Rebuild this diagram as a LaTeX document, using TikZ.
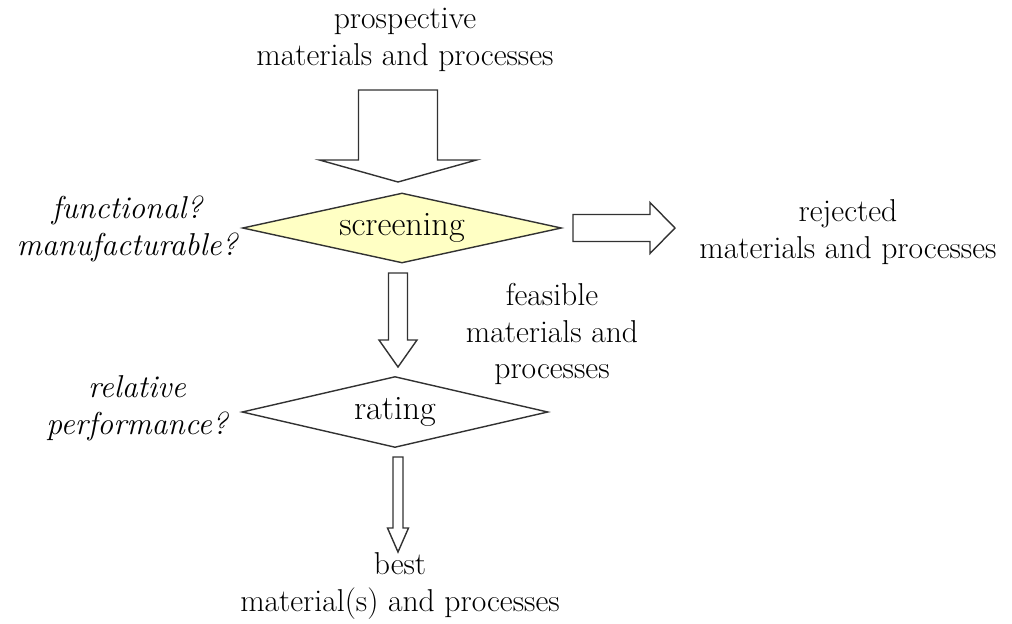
\documentclass[tikz,border=0pt]{standalone}
\usepackage{tikz}
\usetikzlibrary{shapes.geometric,calc}
\definecolor{screenfill}{RGB}{255,255,196}
\definecolor{linegray}{RGB}{50,50,50}
\tikzset{every node/.style={font=\fontsize{18}{21}\selectfont},
 textblock/.style={align=center, inner sep=0pt},
 question/.style={align=center, inner sep=0pt, font=\fontsize{18}{21}\selectfont\itshape},
 decision/.style={diamond, draw=linegray, line width=0.8pt, inner sep=0pt, aspect=4.5},
 blockarrow/.style={draw=linegray, line width=0.8pt, fill=white, line join=miter},
 }
% fat arrow pointing down: from, to, half shaft, half head, head length
\newcommand{\fatdown}[5]{%
 \draw[blockarrow] ($(#1)+(-#3,0)$) -- ($(#2)+(-#3,-#5)$) -- ($(#2)+(-#4,-#5)$) -- (#2)
   -- ($(#2)+(#4,-#5)$) -- ($(#2)+(#3,-#5)$) -- ($(#1)+(#3,0)$) -- cycle;}

\begin{document}
\begin{tikzpicture}[x=0.02cm, y=-0.02cm]
        \useasboundingbox (0,0) rectangle (1012,623);
        % flow
        \node[textblock] (prospective) at (405,40) {prospective\\materials and processes};
        \node[decision, fill=screenfill, minimum width=6.38cm, minimum height=1.4cm] (screening) at (402,228) {\fontsize{19.5}{21}\selectfont screening};
        \node[decision, fill=white, minimum width=6.12cm, minimum height=1.42cm] (rating) at (395,412) {\fontsize{19.5}{21}\selectfont rating};
        \node[textblock] (rejected) at (848,232) {rejected\\materials and processes};
        \node[textblock] (feasible) at (552,334) {feasible\\materials and\\processes};
        \node[textblock] (best) at (400,586) {best\\material(s) and processes};
        % questions
        \node[question] (screenq) at (127,229) {functional?\\manufacturable?};
        \node[question] (rateq) at (137,408) {relative\\performance?};
        % arrows
        \coordinate (in top) at (398,90);
        \coordinate (in tip) at (398,182);
        \coordinate (ok top) at (398,273);
        \coordinate (ok tip) at (398,367);
        \coordinate (best top) at (398,457);
        \coordinate (best tip) at (398,552);
        \coordinate (out start) at (573,228);
        \coordinate (out tip) at (675,228);
        \fatdown{in top}{in tip}{39.5}{78.5}{22}
        \fatdown{ok top}{ok tip}{9.5}{19}{27}
        \fatdown{best top}{best tip}{5}{10.5}{24}
        \draw[blockarrow] ($(out start)+(0,-13.5)$) -- ($(out tip)+(-25,-13.5)$) -- ($(out tip)+(-25,-25.5)$) -- (out tip)
          -- ($(out tip)+(-25,25.5)$) -- ($(out tip)+(-25,13.5)$) -- ($(out start)+(0,13.5)$) -- cycle;
    \end{tikzpicture}
\end{document}
